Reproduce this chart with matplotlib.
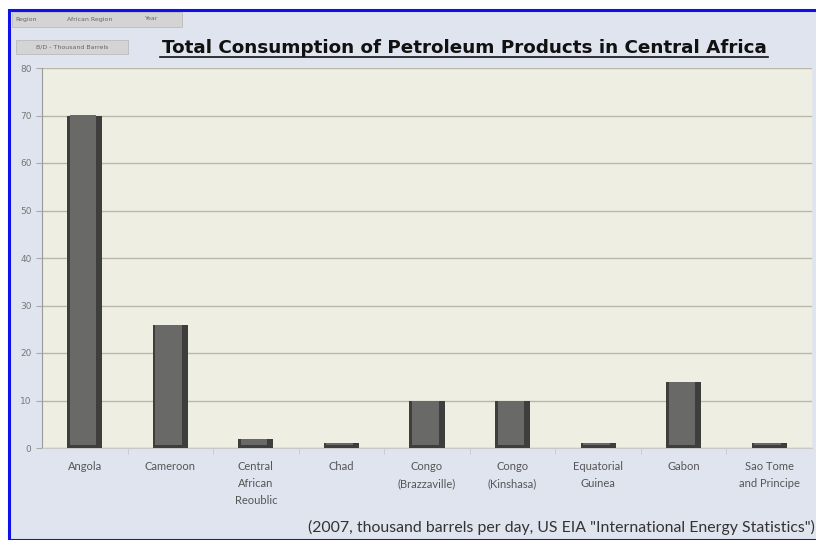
import matplotlib.pyplot as plt
from matplotlib.patches import Rectangle

# consumo de derivados del petroleo, miles de barriles por dia (2007)
paises = ['Angola', 'Cameroon', 'Central\nAfrican\nReoublic', 'Chad', 'Congo\n(Brazzaville)',
          'Congo\n(Kinshasa)', 'Equatorial\nGuinea', 'Gabon', 'Sao Tome\nand Principe']
consumo = [70, 26, 2, 1, 10, 10, 1, 14, 1]
ticks_y = [0, 10, 20, 30, 40, 50, 60, 70, 80]

W, H = 816, 540
fig = plt.figure(figsize=(W / 100, H / 100), dpi=100)
fig.patch.set_facecolor('white')

# marco azul y fondo del grafico
fig.patches.append(Rectangle((9 / W, 0), 1.0, (H - 10) / H, transform=fig.transFigure,
                             facecolor='#dfe4ef', edgecolor='#1010e8', linewidth=2.2, zorder=0))

ax = fig.add_axes([42 / W, (H - 448) / H, (812 - 42) / W, (448 - 68) / H])
ax.set_zorder(2)
ax.set_facecolor('#efeee2')

x = list(range(len(paises)))
# barra exterior oscura y cara interior mas clara (efecto 3D)
ax.bar(x, consumo, width=0.41, color='#3e3e3c', zorder=3)
ax.bar([i - 0.02 for i in x], [max(v - 0.6, 0) for v in consumo], width=0.31,
       bottom=[0.6 if v > 0.6 else 0 for v in consumo], color='#696967', zorder=4)

ax.set_xlim(-0.5, len(paises) - 0.5)
ax.set_ylim(0, 80)
ax.set_yticks(ticks_y)
ax.set_xticks(x)
ax.set_xticklabels(paises, fontsize=8, color='#555555', family='Lato', linespacing=1.7)
ax.tick_params(axis='y', labelsize=6.5, labelcolor='#777777', length=4, color='#aaaaaa')
ax.tick_params(axis='x', length=0, pad=9)
ax.set_xticks([i + 0.5 for i in x[:-1]], minor=True)
ax.tick_params(axis='x', which='minor', length=4, color='#c8c8c8')
ax.grid(axis='y', color='#bab7ab', linewidth=1, zorder=1)
for s in ['top', 'right']:
    ax.spines[s].set_visible(False)
ax.spines['left'].set_color('#9a9a9a')
ax.spines['bottom'].set_color('#c8c8c8')

fig.text(464 / W, 1 - 48 / H, 'Total Consumption of Petroleum Products in Central Africa',
         ha='center', va='center', fontsize=13.2, fontweight='bold', color='#111111')
fig.add_artist(plt.Line2D([160 / W, 768 / W], [1 - 57 / H, 1 - 57 / H], color='#111111', linewidth=1.2))

# botones de campo (tabla dinamica)
botones = [('Region', 26), ('African Region', 90), ('Year', 152)]
fig.patches.append(Rectangle((12 / W, 1 - 27 / H), 170 / W, 15 / H, transform=fig.transFigure,
                             facecolor='#d4d4d4', edgecolor='#bbbbbb', linewidth=0.6))
for txt, px in botones:
    fig.text(px / W, 1 - 19 / H, txt, ha='center', va='center', fontsize=4.5, color='#666666')
fig.patches.append(Rectangle((16 / W, 1 - 54 / H), 112 / W, 14 / H, transform=fig.transFigure,
                             facecolor='#d4d4d4', edgecolor='#bbbbbb', linewidth=0.6))
fig.text(72 / W, 1 - 47 / H, 'B/D - Thousand Barrels', ha='center', va='center', fontsize=4.5, color='#666666')

fig.text(815 / W, 1 - 527 / H, '(2007, thousand barrels per day, US EIA "International Energy Statistics")',
         ha='right', va='center', fontsize=11.4, color='#333333', family='Lato')

fig.savefig('out.png', dpi=100)
